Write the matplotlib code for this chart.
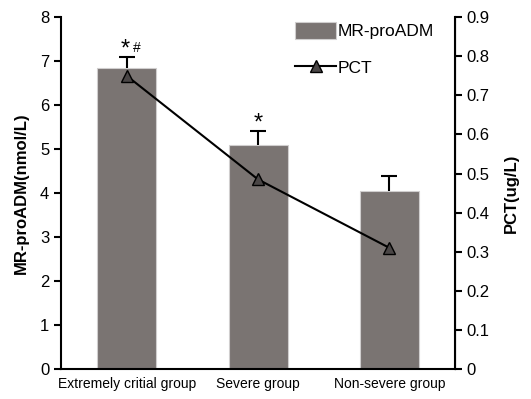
import matplotlib.pyplot as plt
import numpy as np

plt.rcParams['font.family'] = ['Liberation Sans', 'DejaVu Sans']

groups = ['Extremely critial group', 'Severe group', 'Non-severe group']
mr_proadm = [6.85, 5.1, 4.05]
mr_err = [0.25, 0.32, 0.33]
pct = [0.75, 0.485, 0.31]
stars = ['*', '*', '']
hashes = ['#', '', '']

fig = plt.figure(figsize=(5.31, 3.99), dpi=100)
ax = fig.add_axes([0.115, 0.075, 0.742, 0.882])
x = np.arange(len(groups))

bars = ax.bar(x, mr_proadm, width=0.45, color='#7a7472', edgecolor='#d0cece',
              linewidth=0.8, label='MR-proADM', zorder=2)
eb = ax.errorbar(x, mr_proadm, yerr=[[0, 0, 0], mr_err], fmt='none', ecolor='black',
                 elinewidth=1.5, capsize=6, capthick=1.5, zorder=3)
# keep only the upper caps
eb[1][0].set_visible(False)

for xi, v, e, s, h in zip(x, mr_proadm, mr_err, stars, hashes):
    top = v + e
    if s:
        ax.annotate(s, (xi, top), xytext=(-1 if h else 0, -3), textcoords='offset points',
                    ha='center', va='bottom', fontsize=17)
    if h:
        ax.annotate(h, (xi, top), xytext=(7, 1), textcoords='offset points',
                    ha='center', va='bottom', fontsize=10)

ax.set_xlim(-0.5, 2.5)
ax.set_ylim(0, 8)
ax.set_yticks(range(0, 9))
ax.set_xticks(x)
ax.set_xticklabels(groups, fontsize=10)
ax.tick_params(axis='x', length=0, pad=6)
ax.tick_params(axis='y', labelsize=12, width=1.5, length=5)
ax.set_ylabel('MR-proADM(nmol/L)', fontsize=12, fontweight='bold', labelpad=8)
ax.spines['top'].set_visible(False)
for s in ['left', 'bottom']:
    ax.spines[s].set_linewidth(1.5)

ax2 = ax.twinx()
line, = ax2.plot(x, pct, color='black', marker='^', markersize=9,
                 markerfacecolor='#4a4646', markeredgecolor='black',
                 linewidth=1.5, label='PCT', zorder=4)
ax2.set_ylim(0, 0.9)
ax2.set_yticks(np.arange(0, 0.91, 0.1))
ax2.set_yticklabels(['0'] + ['%.1f' % v for v in np.arange(0.1, 0.91, 0.1)])
ax2.tick_params(axis='y', labelsize=12, width=1.5, length=5)
ax2.set_ylabel('PCT(ug/L)', fontsize=12, fontweight='bold', labelpad=10)
ax2.spines['top'].set_visible(False)
ax2.spines['right'].set_linewidth(1.5)
ax2.spines['left'].set_visible(False)
ax2.spines['bottom'].set_visible(False)

ax2.legend([bars, line], ['MR-proADM', 'PCT'], loc='upper right',
           bbox_to_anchor=(0.985, 1.03), frameon=False, fontsize=12.5,
           handlelength=2.4, handleheight=1.1, handletextpad=0.05, labelspacing=1.1)

fig.savefig('out.png', dpi=100)
